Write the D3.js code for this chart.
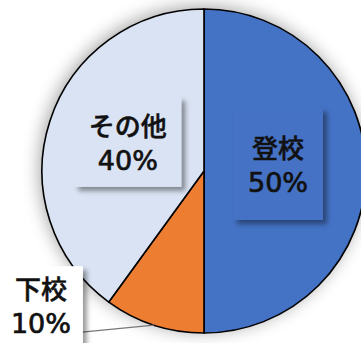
<!DOCTYPE html>
<html>
<head>
<meta charset="utf-8">
<style>
  body { margin: 0; background: #fff; }
  .lbl { text-anchor: middle; fill: #111; stroke: #111; stroke-width: 0.5px; }
  .cat { font-family: "Noto Sans CJK JP", sans-serif; font-size: 26px; font-weight: 500; }
  .pct { font-family: "DejaVu Sans", sans-serif; font-size: 27px; stroke-width: 0.7px; }
</style>
<script src="https://d3js.org/d3.v7.min.js"></script>
</head>
<body>
<svg width="361" height="343"></svg>
<script>
const categories = ["登校", "下校", "その他"];
const values = [50, 10, 40];
const colors = ["#4472C4", "#ED7D31", "#DAE3F3"];

const cx = 204, cy = 171, R = 162;

// box size and nudge from the label centroid, per slice
const boxes = [
  { w: 90, h: 112, dx: -4, dy: -7, fill: "#4472C4" },
  { w: 84, h: 78, dx: -139, dy: 60, fill: "#fff" },
  { w: 107, h: 90, dx: -2, dy: -5, fill: "#DAE3F3" }
];

const svg = d3.select("svg");
const defs = svg.append("defs");

const glow = defs.append("filter").attr("id", "glow")
  .attr("x", "-30%").attr("y", "-30%").attr("width", "160%").attr("height", "160%");
glow.append("feGaussianBlur").attr("in", "SourceAlpha").attr("stdDeviation", 9);
glow.append("feOffset").attr("dx", -2).attr("dy", -2).attr("result", "b");
glow.append("feComponentTransfer").append("feFuncA").attr("type", "linear").attr("slope", 0.38);
const gm = glow.append("feMerge");
gm.append("feMergeNode");
gm.append("feMergeNode").attr("in", "SourceGraphic");

const shadow = defs.append("filter").attr("id", "shadow")
  .attr("x", "-20%").attr("y", "-20%").attr("width", "150%").attr("height", "150%");
shadow.append("feGaussianBlur").attr("in", "SourceAlpha").attr("stdDeviation", 2.5);
shadow.append("feOffset").attr("dx", 4).attr("dy", 4);
shadow.append("feComponentTransfer").append("feFuncA").attr("type", "linear").attr("slope", 0.4);
const sm = shadow.append("feMerge");
sm.append("feMergeNode");
sm.append("feMergeNode").attr("in", "SourceGraphic");

const pie = d3.pie().sort(null).value(d => d)(values);
const arc = d3.arc().innerRadius(0).outerRadius(R);
const labelArc = d3.arc().innerRadius(78).outerRadius(78);
const edgeArc = d3.arc().innerRadius(R).outerRadius(R);

const g = svg.append("g").attr("transform", `translate(${cx},${cy})`);

g.append("circle").attr("r", R).attr("fill", "#fff").attr("filter", "url(#glow)");

g.selectAll("path.slice").data(pie).join("path")
  .attr("class", "slice")
  .attr("d", arc)
  .attr("fill", (d, i) => colors[i])
  .attr("stroke", "#000")
  .attr("stroke-width", 1.6)
  .attr("stroke-linejoin", "round");

pie.forEach((d, i) => {
  const b = boxes[i];
  const [lx, ly] = labelArc.centroid(d);
  const x = lx + b.dx, y = ly + b.dy;
  if (i === 1) {
    const [ex, ey] = edgeArc.centroid(d);
    g.append("line")
      .attr("x1", ex).attr("y1", ey)
      .attr("x2", x + b.w / 2 - 1).attr("y2", ey + 7)
      .attr("stroke", "#777").attr("stroke-width", 1.2);
  }
  g.append("rect")
    .attr("x", x - b.w / 2).attr("y", y - b.h / 2)
    .attr("width", b.w).attr("height", b.h)
    .attr("fill", b.fill)
    .attr("filter", "url(#shadow)");
  g.append("text").attr("class", "lbl cat")
    .attr("x", x).attr("y", y - 6).text(categories[i]);
  g.append("text").attr("class", "lbl pct")
    .attr("x", x).attr("y", y + 28).text(values[i] + "%");
});
</script>
</body>
</html>
